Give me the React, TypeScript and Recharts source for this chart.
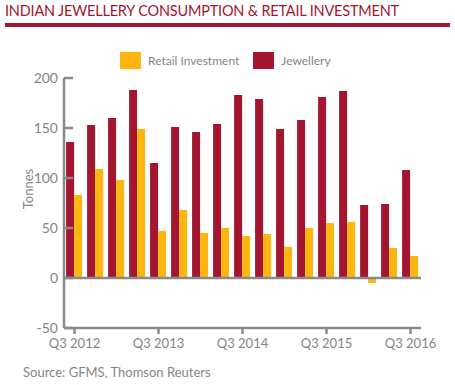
import React from 'react';
import { BarChart, Bar, XAxis, YAxis, ReferenceLine, Label } from 'recharts';

const quarters = [
  'Q3 2012', 'Q4 2012', 'Q1 2013', 'Q2 2013', 'Q3 2013', 'Q4 2013', 'Q1 2014', 'Q2 2014',
  'Q3 2014', 'Q4 2014', 'Q1 2015', 'Q2 2015', 'Q3 2015', 'Q4 2015', 'Q1 2016', 'Q2 2016', 'Q3 2016',
];
const jewellery = [136, 153, 160, 188, 115, 151, 146, 154, 183, 179, 149, 158, 181, 187, 73, 74, 108];
const retailInvestment = [83, 109, 98, 149, 47, 68, 45, 50, 42, 44, 31, 50, 55, 56, -5, 30, 22];
const yTicks = [-50, 0, 50, 100, 150, 200];

const RED = '#a4152f';
const YELLOW = '#ffb511';
const AXIS = '#8a8a8c';
const TEXT = '#848489';
const FONT = 'Lato, "Open Sans", sans-serif';

const legendItems = [
  { name: 'Retail Investment', color: YELLOW },
  { name: 'Jewellery', color: RED },
];

const data = quarters.map((q, i) => ({
  quarter: q,
  jewellery: jewellery[i],
  retail: retailInvestment[i],
}));

// y ticks: label on the left, short tick mark inside the plot
const YTick = (props: any) => {
  const { x, y, payload } = props;
  return (
    <g>
      <text x={x} y={y} dy={5} textAnchor="end" fill={TEXT} fontSize={14} fontFamily={FONT}>
        {payload.value}
      </text>
      <line x1={x + 6} x2={x + 15} y1={y} y2={y} stroke={AXIS} strokeWidth={2.5} />
    </g>
  );
};

const TonnesLabel = (props: any) => {
  const { viewBox } = props;
  const cx = viewBox.x + 4;
  const cy = viewBox.y + viewBox.height / 2 - 14;
  return (
    <text x={cx} y={cy} transform={`rotate(-90, ${cx}, ${cy})`} textAnchor="middle" dominantBaseline="central"
      fill={TEXT} fontSize={13} fontFamily={FONT}>
      Tonnes
    </text>
  );
};

const App = () => {
  return (
    <div style={{ position: 'absolute', left: 0, top: 0, width: 455, height: 385, background: '#fff', fontFamily: FONT }}>
      <div style={{ position: 'absolute', left: 5, top: 1, fontSize: 15.5, color: RED, whiteSpace: 'nowrap', letterSpacing: -0.2, transform: 'scaleX(0.935)', transformOrigin: 'left top' }}>
        INDIAN JEWELLERY CONSUMPTION &amp; RETAIL INVESTMENT
      </div>
      <div style={{ position: 'absolute', left: 5, top: 23, width: 445, height: 3.5, background: RED }} />
      <div style={{ position: 'absolute', left: 120, top: 52, display: 'flex', alignItems: 'center', fontSize: 12, color: TEXT }}>
        {legendItems.map((item) => (
          <div key={item.name} style={{ display: 'flex', alignItems: 'center', marginRight: 14 }}>
            <span style={{ width: 21, height: 17, background: item.color, display: 'inline-block', marginRight: 7 }} />
            <span>{item.name}</span>
          </div>
        ))}
      </div>
      <div style={{ position: 'absolute', left: 0, top: 0 }}>
        <BarChart
          width={455}
          height={385}
          data={data}
          margin={{ top: 78, right: 34, left: 24, bottom: 27 }}
          barCategoryGap="10%"
          barGap={0}
        >
          <XAxis
            dataKey="quarter"
            interval={3}
            axisLine={{ stroke: AXIS, strokeWidth: 2.5 }}
            tickLine={{ stroke: AXIS, strokeWidth: 2.5 }}
            tickSize={6}
            tickMargin={5}
            height={30}
            tick={{ fill: TEXT, fontSize: 13, fontFamily: FONT }}
          />
          <YAxis
            domain={[-50, 200]}
            ticks={yTicks}
            width={40}
            tickLine={false}
            tickSize={0}
            tickMargin={6}
            axisLine={{ stroke: AXIS, strokeWidth: 2.5 }}
            tick={<YTick />}
          >
            <Label content={<TonnesLabel />} />
          </YAxis>
          <Bar dataKey="jewellery" name="Jewellery" fill={RED} isAnimationActive={false} />
          <Bar dataKey="retail" name="Retail Investment" fill={YELLOW} isAnimationActive={false} />
          <ReferenceLine y={0} stroke={AXIS} strokeWidth={2.5} />
        </BarChart>
      </div>
      <div style={{ position: 'absolute', left: 23, top: 364, fontSize: 13, color: TEXT, whiteSpace: 'nowrap' }}>
        Source: GFMS, Thomson Reuters
      </div>
    </div>
  );
};

export default App;
